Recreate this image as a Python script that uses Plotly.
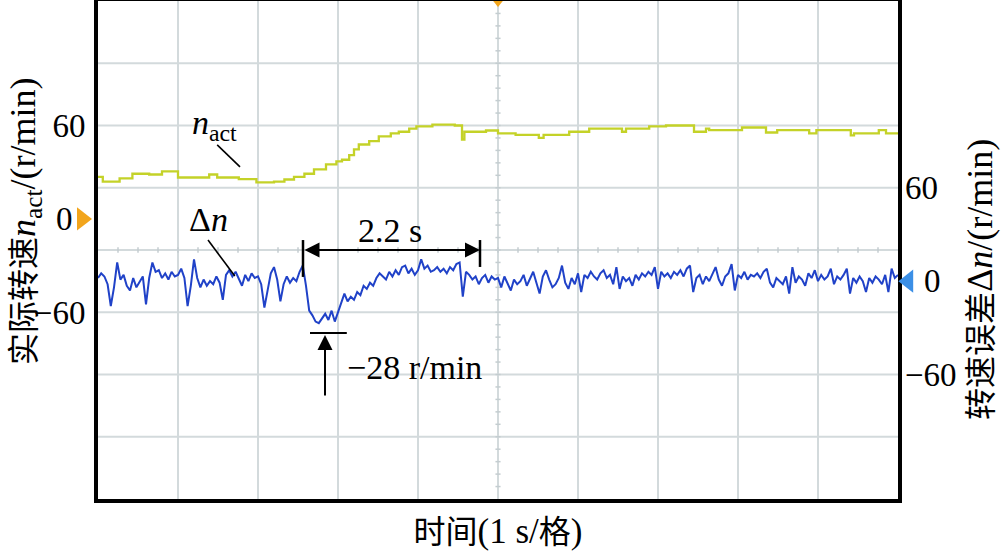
import numpy as np
import plotly.graph_objects as go

# ---------------- data ----------------
# actual speed n_act (left axis, r/min), stepwise samples
nact_t = [0.00, 0.06, 0.27, 0.43, 0.64, 0.80, 1.00, 1.39, 1.49, 1.76, 1.98,
          2.20, 2.33, 2.45, 2.58, 2.70, 2.85, 2.98, 3.05, 3.14, 3.20, 3.26,
          3.39, 3.51, 3.66, 3.76, 3.89, 3.98, 4.18, 4.46, 4.55, 4.58, 4.85,
          5.00, 5.22, 5.51, 5.57, 5.89, 6.14, 6.55, 6.60, 6.89, 7.10, 7.45,
          7.60, 7.64, 8.05, 8.35, 8.49, 8.89, 8.98, 9.41, 9.45, 9.76, 9.85,
          10.0]
nact_v = [27, 24, 26, 29, 28.5, 30.5, 26.6, 28.5, 26.6, 25.5, 23.4,
          24, 25.3, 27, 29, 31.8, 35, 37, 38, 41, 44.6, 47.8,
          50, 53, 55, 56, 58, 59.4, 60.6, 60, 51, 56, 56.8,
          55, 54, 52, 54, 56, 58, 56, 58, 59.4, 60, 56,
          58, 57, 58.7, 55.5, 57, 55, 57, 53.6, 55, 57, 55,
          55]

# speed error dn (right axis, r/min), one sample every 0.04 s
dn_s0 = [2, 5, 3, -2, -16, -4, 12, 1, 4, -3, -6, 2, -4, 0, 3, -15, 2, 12, 6, 7, 2, 5, 1, 6, 3]
dn_s1 = [4, 8, 2, -16, -3, 14, 2, -4, 1, -3, 0, -2, 3, -1, -12, 4, 7, 3, 6, 1, -3, 4, 0, 5, 2]
dn_s2 = [3, -2, -17, -6, 5, 9, 1, -13, -2, 3, -1, 2, 0, 6, 10, -3, -19, -22, -26, -27, -24, -21, -25, -19, -26]
dn_s3 = [-20, -14, -8, -13, -10, -12, -7, -9, -3, -5, -1, -3, 2, 5, 3, 1, 6, 3, 7, 4, 9, 10, 5, 8, 4]
dn_s4 = [7, 14, 8, 10, 6, 7, 9, 6, 8, 5, 9, 7, 11, 12, -10, 6, 4, 1, 3, -2, 2, 4, -1, 3, 1]
dn_s5 = [2, -4, 3, -1, -6, 1, -2, 0, 4, -3, 2, 6, -1, -8, 3, 7, 1, -4, -2, 2, 10, -1, -5, 2, -2]
dn_s6 = [5, -7, 4, 2, 6, 3, 1, 5, 7, 2, 4, -2, 9, -5, 3, 0, 2, -3, 4, 1, 5, 3, 6, 4, 9]
dn_s7 = [-5, 6, 3, 5, 2, 6, 4, 7, 3, 8, 10, -7, 2, 4, -2, 3, 0, 5, 9, 1, -3, 3, 5, 11, -6]
dn_s8 = [4, 2, 6, 1, 4, 3, 5, 2, 6, 8, -1, -4, 2, 0, -2, 3, -8, 9, -1, 3, 1, -3, 5, 2, 7]
dn_s9 = [0, 4, 1, 3, 8, -2, 3, 1, 4, 8, -8, 2, -1, 3, 0, -7, 2, -1, 3, 1, -2, 4, -7, 8, 2]
dn_end = [4]
dn_v = dn_s0 + dn_s1 + dn_s2 + dn_s3 + dn_s4 + dn_s5 + dn_s6 + dn_s7 + dn_s8 + dn_s9 + dn_end
dn_t = np.linspace(0, 10, len(dn_v))

left_ticks = [60, -60]
left_ticktext = ["60", "\u221260"]
right_ticks = [60, -60]
right_ticktext = ["60", "\u221260"]

# ---------------- styling ----------------
FONT = "Liberation Serif, Noto Sans CJK SC, serif"
FS = 33
GRID = "#d3dadc"
TICKC = "#c4cdd0"
XR = [0, 10]
YL = [-180, 140]   # left axis range (40 per division)
YR = [-140, 180]   # right axis range (40 per division)


def cjk(s, size=32):
    return f'<span style="font-size:{size}px">{s}</span>'


fig = go.Figure()
fig.add_trace(go.Scatter(x=nact_t, y=nact_v, mode="lines", yaxis="y",
                         line=dict(color="#c4d228", width=2.3, shape="hv"),
                         hoverinfo="skip", showlegend=False))
fig.add_trace(go.Scatter(x=dn_t, y=dn_v, mode="lines", yaxis="y2",
                         line=dict(color="#2042c8", width=2.0),
                         hoverinfo="skip", showlegend=False))

shapes = []
# graticule
for i in range(1, 10):
    shapes.append(dict(type="line", xref="x", yref="paper", x0=i, x1=i, y0=0, y1=1,
                       line=dict(color=GRID, width=2), layer="below"))
for j in range(1, 8):
    yv = YL[0] + 40 * j
    shapes.append(dict(type="line", xref="paper", yref="y", x0=0, x1=1, y0=yv, y1=yv,
                       line=dict(color=GRID, width=2), layer="below"))
ycen = (YL[0] + YL[1]) / 2
for k in range(1, 40):
    xv = 0.25 * k
    shapes.append(dict(type="line", xref="x", yref="y", x0=xv, x1=xv, y0=ycen - 1.7, y1=ycen + 1.7,
                       line=dict(color=TICKC, width=1.5), layer="below"))
    yv = YL[0] + 8 * k
    shapes.append(dict(type="line", xref="x", yref="y", x0=5 - 0.032, x1=5 + 0.032, y0=yv, y1=yv,
                       line=dict(color=TICKC, width=1.5), layer="below"))

# leader lines
shapes.append(dict(type="line", xref="x", yref="y", x0=1.49, y0=47.5, x1=1.775, y1=33.4,
                   line=dict(color="black", width=1.6)))
shapes.append(dict(type="line", xref="x", yref="y2", x0=1.375, y0=26.4, x1=1.71, y1=3.3,
                   line=dict(color="black", width=1.6)))
# 2.2 s limit bars
shapes.append(dict(type="line", xref="x", yref="y", x0=2.5625, x1=2.5625, y0=-13.6, y1=-37.3,
                   line=dict(color="black", width=2.5)))
shapes.append(dict(type="line", xref="x", yref="y", x0=4.775, x1=4.775, y0=-13.6, y1=-30.9,
                   line=dict(color="black", width=2.5)))
# -28 r/min bar
shapes.append(dict(type="line", xref="x", yref="y2", x0=2.65, x1=3.11, y0=-33.4, y1=-33.4,
                   line=dict(color="black", width=2)))
# channel markers
shapes.append(dict(type="path", xref="paper", yref="y",
                   path="M -0.02625,7.5 L -0.0075,0 L -0.02625,-7.5 Z",
                   fillcolor="#f2a51c", line=dict(width=0)))
shapes.append(dict(type="path", xref="paper", yref="y2",
                   path="M 1.019,7.5 L 1.0005,0 L 1.019,-7.5 Z",
                   fillcolor="#3b8fe6", line=dict(width=0)))
shapes.append(dict(type="path", xref="x", yref="paper",
                   path="M 4.94,1.0 L 5.06,1.0 L 5.0,0.988 Z",
                   fillcolor="#f2a51c", line=dict(width=0)))

tf = dict(family=FONT, size=FS, color="black")
af = dict(family=FONT, size=34, color="black")
ttf = dict(family=FONT, size=36, color="black")
annotations = [
    # axis titles (vertical)
    dict(x=-0.0915, y=0.558, xref="paper", yref="paper", textangle=-90,
         text=cjk("实际转速") + "<i>n</i><sub>act</sub>/(r/min)",
         showarrow=False, font=ttf, xanchor="center", yanchor="middle"),
    dict(x=1.103, y=0.4408, xref="paper", yref="paper", textangle=-90,
         text=cjk("转速误差") + "\u0394<i>n</i>/(r/min)",
         showarrow=False, font=ttf, xanchor="center", yanchor="middle"),
    # trace labels and measurement marks
    dict(x=1.46, y=60.3, xref="x", yref="y", text="<i>n</i><sub>act</sub>",
         showarrow=False, font=af),
    dict(x=1.375, y=39.3, xref="x", yref="y2", text="\u0394<i>n</i>",
         showarrow=False, font=af),
    dict(x=3.65, y=-7.5, xref="x", yref="y", text="2.2 s", showarrow=False, font=af),
    dict(x=4.775, y=-20, ax=2.5625, ay=-20, xref="x", yref="y", axref="x", ayref="y",
         text="", showarrow=True, arrowside="end+start", arrowhead=2, startarrowhead=2,
         arrowsize=1.5, startarrowsize=1.5, arrowwidth=2, arrowcolor="black"),
    dict(x=2.8375, y=-34.6, ax=2.8375, ay=-74.5, xref="x", yref="y2", axref="x", ayref="y2",
         text="", showarrow=True, arrowhead=2, arrowsize=1.5, arrowwidth=2, arrowcolor="black"),
    dict(x=3.09, y=-55.8, xref="x", yref="y2", text="\u221228 r/min", xanchor="left",
         showarrow=False, font=af),
    dict(x=-0.0285, y=0, xref="paper", yref="y", text="0", xanchor="right",
         showarrow=False, font=tf),
    dict(x=1.03, y=0, xref="paper", yref="y2", text="0", xanchor="left",
         showarrow=False, font=tf),
]

fig.update_layout(
    width=1003, height=553,
    margin=dict(l=98, r=105, t=1, b=54, autoexpand=False),
    paper_bgcolor="white", plot_bgcolor="white",
    font=dict(family=FONT, size=FS, color="black"),
    showlegend=False,
    xaxis=dict(range=XR, showticklabels=False, ticks="", showgrid=False, zeroline=False,
               showline=True, mirror=True, linecolor="black", linewidth=4, automargin=False,
               title=dict(text=cjk("时间") + "(1 s/" + cjk("格") + ")",
                          font=dict(family=FONT, size=35, color="black"), standoff=17)),
    yaxis=dict(range=YL, tickvals=left_ticks, ticktext=left_ticktext, ticks="",
               tickfont=tf, ticklabelstandoff=2, showgrid=False, zeroline=False,
               showline=True, mirror=True, linecolor="black", linewidth=4, automargin=False),
    yaxis2=dict(range=YR, overlaying="y", side="right", tickvals=right_ticks,
                ticktext=right_ticktext, ticks="", tickfont=tf, ticklabelstandoff=6,
                showgrid=False, zeroline=False, showline=False, automargin=False),
    shapes=shapes,
    annotations=annotations,
)

fig.write_html("out.html", config={"displayModeBar": False},
               post_script="document.body.style.margin='0';")
